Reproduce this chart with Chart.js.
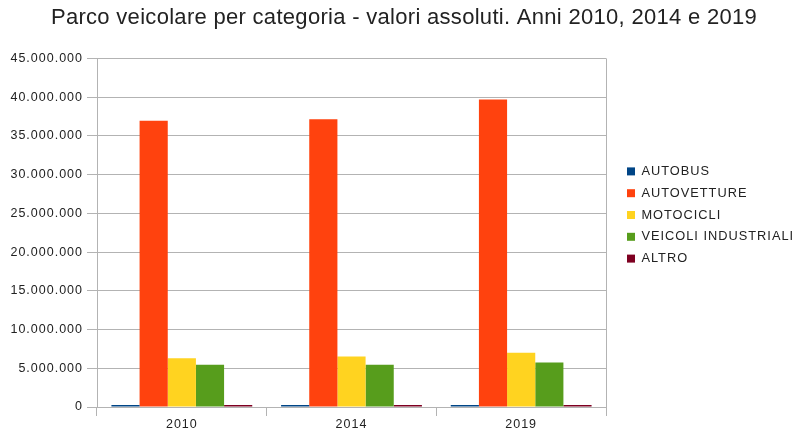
<!DOCTYPE html>
<html>
<head>
<meta charset="utf-8">
<script src="https://cdn.jsdelivr.net/npm/chart.js@4"></script>
<style>
  html, body { margin: 0; padding: 0; background: #fff; }
  #wrap { width: 800px; height: 438px; }
</style>
</head>
<body>
<div id="wrap"><canvas id="myChart" width="800" height="438"></canvas></div>
<script>
const years = ['2010', '2014', '2019'];
const autobus = [99000, 98000, 100000];
const autovetture = [36950000, 37150000, 39700000];
const motocicli = [6290000, 6510000, 6990000];
const veicoliIndustriali = [5440000, 5440000, 5730000];
const altro = [180000, 190000, 200000];
const yTicks = [0, 5000000, 10000000, 15000000, 20000000, 25000000, 30000000, 35000000, 40000000, 45000000];

const fmt = (v) => v.toString().replace(/\B(?=(\d{3})+(?!\d))/g, '.');
const FONT = 'Liberation Sans';

// the original text is drawn a bit wider than the canvas default
const spacing = {
  id: 'spacing',
  beforeLayout(c) {
    c.ctx.letterSpacing = '1px';
    const lg = c.legend;
    if (lg && !lg._fixedFit) {
      const fit = lg.fit;
      lg.fit = function () { fit.call(this); this.width = 194; };
      lg._fixedFit = true;
    }
    const tb = c.titleBlock;
    if (tb && !tb._wrapped) {
      const draw = tb.draw;
      tb.draw = function () {
        const old = this.ctx.letterSpacing;
        this.ctx.letterSpacing = '0.3px';
        draw.apply(this, arguments);
        this.ctx.letterSpacing = old;
      };
      tb._wrapped = true;
    }
  },
  afterLayout(c) {
    const lg = c.legend;
    lg.left = 618; lg.right = 800;
    lg.top = 156; lg.bottom = 300;
  },
  beforeDraw(c) { c.ctx.letterSpacing = '1px'; },
  afterDatasetsDraw(c) {
    const a = c.chartArea;
    const g = c.ctx;
    g.save();
    g.strokeStyle = '#b3b3b3';
    g.lineWidth = 1;
    g.beginPath();
    g.moveTo(Math.round(a.right) + 0.5, a.top);
    g.lineTo(Math.round(a.right) + 0.5, a.bottom);
    g.stroke();
    g.restore();
  }
};

let ctx = document.getElementById('myChart').getContext('2d');
let chart = new Chart(ctx, {
  type: 'bar',
  data: {
    labels: years,
    datasets: [
      { label: 'AUTOBUS', data: autobus, backgroundColor: '#004586' },
      { label: 'AUTOVETTURE', data: autovetture, backgroundColor: '#ff420e' },
      { label: 'MOTOCICLI', data: motocicli, backgroundColor: '#ffd320' },
      { label: 'VEICOLI INDUSTRIALI', data: veicoliIndustriali, backgroundColor: '#579d1c' },
      { label: 'ALTRO', data: altro, backgroundColor: '#7e0021' }
    ]
  },
  options: {
    responsive: false,
    animation: false,
    layout: { padding: { left: 8, right: 0, top: 4, bottom: 5 } },
    datasets: { bar: { categoryPercentage: 0.83, barPercentage: 1.0, minBarLength: 2 } },
    plugins: {
      title: {
        display: true,
        text: 'Parco veicolare per categoria - valori assoluti. Anni 2010, 2014 e 2019',
        color: '#222',
        font: { family: FONT, size: 22, weight: 'normal' },
        padding: { top: 1, bottom: 27 }
      },
      legend: {
        position: 'right',
        align: 'start',
        labels: {
          boxWidth: 8,
          boxHeight: 8,
          padding: 9,
          color: '#222',
          font: { family: FONT, size: 12.8 }
        }
      },
      tooltip: { enabled: false }
    },
    scales: {
      x: {
        offset: true,
        grid: { display: true, drawOnChartArea: false, offset: true, color: '#b3b3b3', tickLength: 9 },
        border: { color: '#b3b3b3' },
        ticks: { color: '#222', font: { family: FONT, size: 12.5 }, padding: 1 }
      },
      y: {
        min: 0,
        max: 45000000,
        afterBuildTicks: (axis) => { axis.ticks = yTicks.map(v => ({ value: v })); },
        afterFit: (axis) => { axis.width = 89; },
        grid: { color: '#b3b3b3', tickLength: 10 },
        border: { color: '#b3b3b3' },
        ticks: {
          color: '#222',
          font: { family: FONT, size: 12.5 },
          padding: 4,
          callback: (v) => fmt(v)
        }
      }
    }
  },
  plugins: [spacing]
});
</script>
</body>
</html>
